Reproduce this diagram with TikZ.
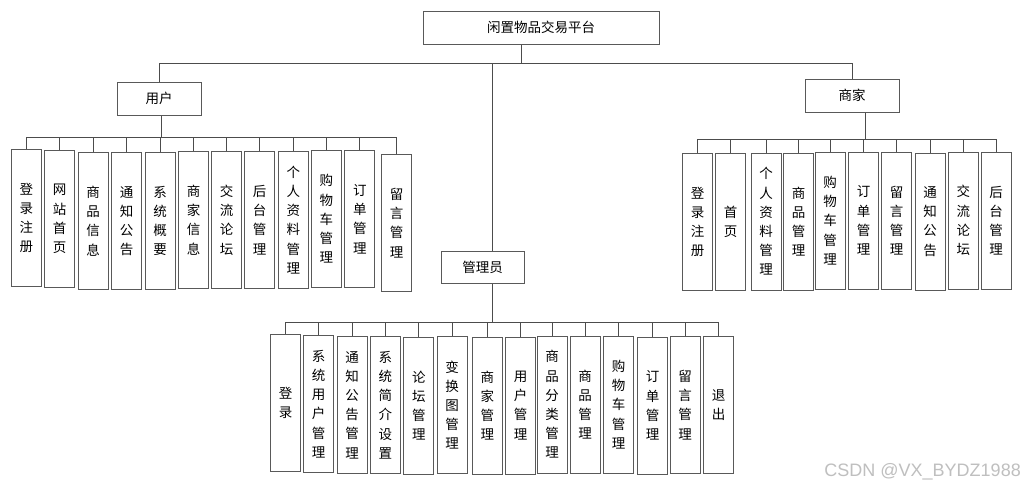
\documentclass[tikz,border=0pt]{standalone}
\usepackage{fontspec}
\newfontfamily\cjk{Noto Sans CJK SC}
\setmainfont{Liberation Sans}
\begin{document}
\begin{tikzpicture}[x=1pt,y=-1pt,
  box/.style={draw=black!65, line width=1pt, inner sep=0pt, font=\cjk\fontsize{13.5}{19.2}\selectfont, align=center},
  hbox/.style={box, anchor=center},
  vbox/.style={box, minimum width=30pt, minimum height=137pt, anchor=north},
  link/.style={draw=black!70, line width=1pt}]
\useasboundingbox (0,0) rectangle (1025,488);
\fill[white] (0,0) rectangle (1025,488);

% top levels
\node[hbox, minimum width=236pt, minimum height=33pt] (root) at (541,27.5) {闲置物品交易平台};
\node[hbox, minimum width=84pt, minimum height=33pt] (user) at (159,98.5) {用户};
\node[hbox, minimum width=94pt, minimum height=33pt] (merchant) at (852,95.5) {商家};
\node[hbox, minimum width=83pt, minimum height=32pt] (admin) at (482.5,267) {管理员};

% user children
\node[vbox] (u1) at (26.5,149) {登\\录\\注\\册};
\node[vbox] (u2) at (59.5,150) {网\\站\\首\\页};
\node[vbox] (u3) at (93.2,152) {商\\品\\信\\息};
\node[vbox] (u4) at (126.5,152) {通\\知\\公\\告};
\node[vbox] (u5) at (160,152) {系\\统\\概\\要};
\node[vbox] (u6) at (193.5,151) {商\\家\\信\\息};
\node[vbox] (u7) at (226.5,151) {交\\流\\论\\坛};
\node[vbox] (u8) at (259.7,151) {后\\台\\管\\理};
\node[vbox] (u9) at (293.3,151) {个\\人\\资\\料\\管\\理};
\node[vbox] (u10) at (326.3,150) {购\\物\\车\\管\\理};
\node[vbox] (u11) at (359.8,150) {订\\单\\管\\理};
\node[vbox] (u12) at (396.5,154) {留\\言\\管\\理};

% merchant children
\node[vbox] (m1) at (697.7,153) {登\\录\\注\\册};
\node[vbox] (m2) at (730.7,153) {首\\页};
\node[vbox] (m3) at (766,152.5) {个\\人\\资\\料\\管\\理};
\node[vbox] (m4) at (798.7,152.5) {商\\品\\管\\理};
\node[vbox] (m5) at (830.2,151.5) {购\\物\\车\\管\\理};
\node[vbox] (m6) at (863.5,151.5) {订\\单\\管\\理};
\node[vbox] (m7) at (896.7,151.5) {留\\言\\管\\理};
\node[vbox] (m8) at (930.2,152.5) {通\\知\\公\\告};
\node[vbox] (m9) at (963.3,151.5) {交\\流\\论\\坛};
\node[vbox] (m10) at (996.2,151.5) {后\\台\\管\\理};

% admin children
\node[vbox] (a1) at (285.5,334) {登\\录};
\node[vbox] (a2) at (318.5,335) {系\\统\\用\\户\\管\\理};
\node[vbox] (a3) at (352.2,336) {通\\知\\公\\告\\管\\理};
\node[vbox] (a4) at (385.3,336) {系\\统\\简\\介\\设\\置};
\node[vbox] (a5) at (418.8,336.5) {论\\坛\\管\\理};
\node[vbox] (a6) at (452.2,336) {变\\换\\图\\管\\理};
\node[vbox] (a7) at (487.3,336.5) {商\\家\\管\\理};
\node[vbox] (a8) at (520.5,336.5) {用\\户\\管\\理};
\node[vbox] (a9) at (552,335.5) {商\\品\\分\\类\\管\\理};
\node[vbox] (a10) at (585.2,335.5) {商\\品\\管\\理};
\node[vbox] (a11) at (618.5,335.5) {购\\物\\车\\管\\理};
\node[vbox] (a12) at (652.5,336.5) {订\\单\\管\\理};
\node[vbox] (a13) at (685.2,336) {留\\言\\管\\理};
\node[vbox] (a14) at (718.5,336) {退\\出};

% top bus
\coordinate (topbus) at (0,63);
\draw[link] ([xshift=-20pt]root.south) -- ([xshift=-20pt]root.south |- topbus);
\draw[link] (user.north |- topbus) -- (merchant.north |- topbus);
\draw[link] (user.north) -- (user.north |- topbus);
\draw[link] (merchant.north) -- (merchant.north |- topbus);
\draw[link] ([xshift=9.5pt]admin.north) -- ([xshift=9.5pt]admin.north |- topbus);

% user bus
\coordinate (ubus) at (0,137);
\draw[link] ([xshift=2pt]user.south) -- ([xshift=2pt]user.south |- ubus);
\draw[link] (u1.north |- ubus) -- (u12.north |- ubus);
\foreach \i in {1,...,12} \draw[link] (u\i.north) -- (u\i.north |- ubus);

% merchant bus
\coordinate (mbus) at (0,139);
\draw[link] ([xshift=13pt]merchant.south) -- ([xshift=13pt]merchant.south |- mbus);
\draw[link] (m1.north |- mbus) -- (m10.north |- mbus);
\foreach \i in {1,...,10} \draw[link] (m\i.north) -- (m\i.north |- mbus);

% admin bus
\coordinate (abus) at (0,322);
\draw[link] ([xshift=9.5pt]admin.south) -- ([xshift=9.5pt]admin.south |- abus);
\draw[link] (a1.north |- abus) -- (a14.north |- abus);
\foreach \i in {1,...,14} \draw[link] (a\i.north) -- (a\i.north |- abus);

% watermark
\node[anchor=base east, text=black!25, font=\fontsize{18}{21}\selectfont, inner sep=0pt] (wm) at (1021,476) {CSDN @VX\_BYDZ1988};
\end{tikzpicture}
\end{document}
